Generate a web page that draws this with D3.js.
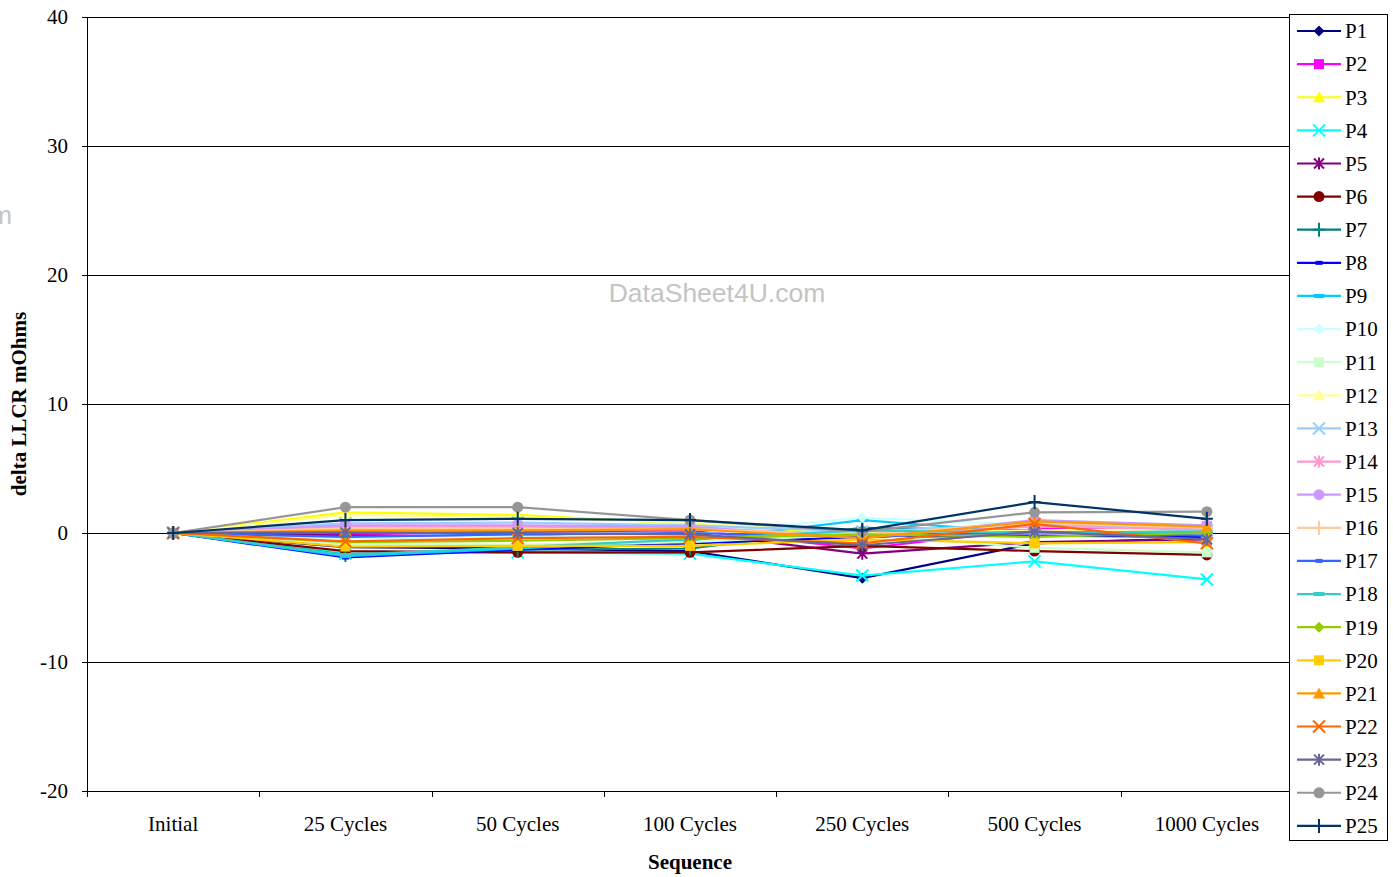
<!DOCTYPE html>
<html><head><meta charset="utf-8">
<script src="https://cdn.jsdelivr.net/npm/d3@7"></script>
<style>body{margin:0;background:#fff}svg{display:block}</style>
</head><body>
<svg id="c" width="1393" height="877"></svg>
<script>
const categories = ["Initial","25 Cycles","50 Cycles","100 Cycles","250 Cycles","500 Cycles","1000 Cycles"];
const yTicks = [-20,-10,0,10,20,30,40];
const seriesNames = ["P1","P2","P3","P4","P5","P6","P7","P8","P9","P10","P11","P12","P13","P14","P15","P16","P17","P18","P19","P20","P21","P22","P23","P24","P25"];
const seriesColors = ["#000080","#FF00FF","#FFFF00","#00FFFF","#800080","#800000","#008080","#0000FF","#00CCFF","#CCFFFF","#CCFFCC","#FFFF99","#99CCFF","#FF99CC","#CC99FF","#FFCC99","#3366FF","#33CCCC","#99CC00","#FFCC00","#FF9900","#FF6600","#666699","#969696","#003366"];
const seriesMarkers = ["diamond","square","triangle","x","star","circle","plus","dash","longdash","diamond","square","triangle","x","star","circle","plus","dash","longdash","diamond","square","triangle","x","star","circle","plus"];
const P1  = [0,-1.1,-1.2,-1.4,-3.5,-0.8,-0.4];
const P2  = [0,-0.1, 0.1, 0.2,-1.2, 0.3, 0.5];
const P3  = [0, 1.6, 1.4, 0.7,-0.2, 0.0, 0.1];
const P4  = [0,-1.6,-1.5,-1.6,-3.3,-2.2,-3.6];
const P5  = [0,-0.2,-0.3, 0.0,-1.6,-0.7,-0.5];
const P6  = [0,-1.4,-1.5,-1.5,-1.0,-1.4,-1.7];
const P7  = [0,-1.7,-1.3,-1.2, 0.4, 0.2, 0.0];
const P8  = [0,-1.9,-1.3,-0.8,-0.3,-0.2,-0.3];
const P9  = [0,-1.8,-1.2,-0.6, 1.0, 0.0, 0.2];
const P10 = [0,-0.4,-0.3,-0.1, 1.2, 0.6, 0.3];
const P11 = [0,-0.85,-0.9,-0.7,-0.1,-1.15,-1.5];
const P12 = [0, 1.4, 1.2, 0.8, 0.0, 0.2, 0.3];
const P13 = [0, 0.75,0.8, 0.6, 0.1, 0.7, 0.2];
const P14 = [0, 0.5, 0.5, 0.4,-0.2, 0.5, 0.3];
const P15 = [0, 0.6, 0.6, 0.5,-0.4, 1.0, 0.6];
const P16 = [0, 0.35,0.3, 0.3,-0.1, 0.8, 0.4];
const P17 = [0,-0.3,-0.1, 0.0,-0.3, 0.1,-0.2];
const P18 = [0,-1.7,-1.1,-0.5, 0.2, 0.0, 0.1];
const P19 = [0,-0.7,-0.6,-0.4,-0.1,-0.3, 0.0];
const P20 = [0,-1.05,-1.0,-1.0,-0.5,-0.8,-0.7];
const P21 = [0, 0.2, 0.2, 0.3,-0.4, 0.9, 0.5];
const P22 = [0,-0.65,-0.4,-0.3,-0.8, 0.7,-0.8];
const P23 = [0, 0.05,0.0,-0.1,-0.95, 0.1,-0.5];
const P24 = [0, 2.0, 2.0, 1.0, 0.1, 1.6, 1.65];
const P25 = [0, 1.0, 1.1, 1.0, 0.2, 2.4, 1.1];
const seriesValues = [P1,P2,P3,P4,P5,P6,P7,P8,P9,P10,P11,P12,P13,P14,P15,P16,P17,P18,P19,P20,P21,P22,P23,P24,P25];

const svg = d3.select("#c");
const L = 87, R = 1293, T = 17, B = 791;
const x = d3.scaleBand().domain(categories).range([L, R]);
const y = d3.scaleLinear().domain([-20, 40]).range([B, T]);
const serif = "'Liberation Serif','Times New Roman',serif";
const FS = 21;

// watermark
svg.append("text").attr("x", 717).attr("y", 302).attr("text-anchor","middle")
  .attr("font-family","'Liberation Sans',Arial,sans-serif").attr("font-size",26.5)
  .attr("fill","#c4c4c4").text("DataSheet4U.com");
svg.append("text").attr("x", -10).attr("y", 224)
  .attr("font-family","'Liberation Sans',Arial,sans-serif").attr("font-size",26.5)
  .attr("fill","#c4c4c4").text("m");

// gridlines
svg.append("g").selectAll("line").data(yTicks).join("line")
  .attr("x1", L).attr("x2", 1290).attr("y1", d => y(d)).attr("y2", d => y(d))
  .attr("stroke", "#000").attr("stroke-width", 1).attr("shape-rendering","crispEdges");

// y axis
const yAxis = svg.append("g").attr("transform", `translate(${L},0)`)
  .call(d3.axisLeft(y).tickValues(yTicks).tickSize(5).tickPadding(14).tickFormat(d => String(d)));
yAxis.select(".domain").attr("stroke","#000").attr("shape-rendering","crispEdges");
yAxis.selectAll(".tick line").attr("stroke","#000").attr("shape-rendering","crispEdges");
yAxis.selectAll("text").attr("font-family", serif).attr("font-size", FS).attr("fill","#000");

// x axis
const xAxis = svg.append("g").attr("transform", `translate(0,${B})`)
  .call(d3.axisBottom(x).tickSize(0).tickPadding(25));
xAxis.select(".domain").remove();
xAxis.selectAll("text").attr("font-family", serif).attr("font-size", FS).attr("fill","#000");
const bounds = categories.map(c => x(c));
svg.append("g").selectAll("line").data(bounds).join("line")
  .attr("x1", d => Math.round(d)+0.5).attr("x2", d => Math.round(d)+0.5).attr("y1", B).attr("y2", B + 6)
  .attr("stroke","#000");

// axis titles
svg.append("text").attr("x", (L + R) / 2).attr("y", 869).attr("text-anchor","middle")
  .attr("font-family", serif).attr("font-size", FS).attr("font-weight","bold").text("Sequence");
svg.append("text").attr("transform", `translate(26,${(T + B) / 2}) rotate(-90)`).attr("text-anchor","middle")
  .attr("font-family", serif).attr("font-size", FS).attr("font-weight","bold").text("delta LLCR mOhms");

function drawMarker(g, type, color, cx, cy) {
  const s = 5.5;
  if (type === "diamond") g.append("path").attr("d", `M${cx},${cy-s}L${cx+s},${cy}L${cx},${cy+s}L${cx-s},${cy}Z`).attr("fill", color);
  else if (type === "square") g.append("rect").attr("x", cx-5).attr("y", cy-5).attr("width", 10).attr("height", 10).attr("fill", color);
  else if (type === "triangle") g.append("path").attr("d", `M${cx},${cy-6}L${cx+6},${cy+5}L${cx-6},${cy+5}Z`).attr("fill", color);
  else if (type === "circle") g.append("circle").attr("cx", cx).attr("cy", cy).attr("r", 5.5).attr("fill", color);
  else if (type === "x") g.append("path").attr("d", `M${cx-6},${cy-6}L${cx+6},${cy+6}M${cx-6},${cy+6}L${cx+6},${cy-6}`).attr("stroke", color).attr("stroke-width", 2);
  else if (type === "star") g.append("path").attr("d", `M${cx-5},${cy-5}L${cx+5},${cy+5}M${cx-5},${cy+5}L${cx+5},${cy-5}M${cx},${cy-6}L${cx},${cy+6}`).attr("stroke", color).attr("stroke-width", 2);
  else if (type === "plus") g.append("path").attr("d", `M${cx-6},${cy}L${cx+6},${cy}M${cx},${cy-7}L${cx},${cy+7}`).attr("stroke", color).attr("stroke-width", 2);
  else if (type === "dash") g.append("rect").attr("x", cx-3.5).attr("y", cy-2).attr("width", 7).attr("height", 4).attr("fill", color);
  else if (type === "longdash") g.append("rect").attr("x", cx-5.5).attr("y", cy-2).attr("width", 11).attr("height", 4).attr("fill", color);
}

// series
const line = d3.line().x((d, i) => x(categories[i]) + x.bandwidth() / 2).y(d => y(d));
const plot = svg.append("g");
seriesValues.forEach((vals, si) => {
  const g = plot.append("g");
  g.append("path").datum(vals).attr("d", line).attr("fill","none")
    .attr("stroke", seriesColors[si]).attr("stroke-width", 2.2);
  vals.forEach((v, i) => drawMarker(g, seriesMarkers[si], seriesColors[si], x(categories[i]) + x.bandwidth() / 2, y(v)));
});

// legend
const lg = svg.append("g");
lg.append("rect").attr("x", 1289.5).attr("y", 14.5).attr("width", 98).attr("height", 826)
  .attr("fill","#fff").attr("stroke","#000").attr("stroke-width",1);
seriesNames.forEach((n, i) => {
  const cy = 31 + i * 33.12;
  lg.append("line").attr("x1", 1297).attr("x2", 1341).attr("y1", cy).attr("y2", cy)
    .attr("stroke", seriesColors[i]).attr("stroke-width", 2.2);
  drawMarker(lg, seriesMarkers[i], seriesColors[i], 1319, cy);
  lg.append("text").attr("x", 1345).attr("y", cy).attr("dy", "0.35em")
    .attr("font-family", serif).attr("font-size", FS).attr("fill","#000").text(n);
});
</script>
</body></html>
